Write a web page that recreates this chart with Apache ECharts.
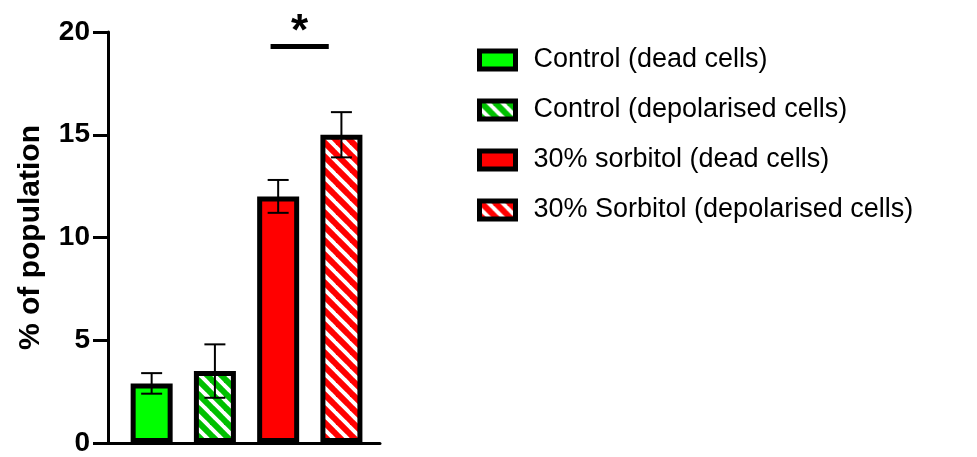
<!DOCTYPE html>
<html>
<head>
<meta charset="utf-8">
<script src="https://cdn.jsdelivr.net/npm/echarts@6/dist/echarts.min.js"></script>
<style>
  html, body { margin: 0; padding: 0; background: #fff; }
  #chart { width: 977px; height: 457px; }
</style>
</head>
<body>
<div id="chart"></div>
<script>
// Group names, bar positions, means and SD
const seriesNames = [
  'Control (dead cells)',
  'Control (depolarised cells)',
  '30% sorbitol (dead cells)',
  '30% Sorbitol (depolarised cells)'
];
const positions = [0, 1, 2, 3];
const means = [2.9, 3.5, 12.0, 15.0];
const errors = [0.5, 1.3, 0.8, 1.1];

// Y axis scale
const yMin = 0;
const yMax = 20;
const yStep = 5;

// Significance bracket: [from, to, height]
const sigBars = [[1.88, 2.80, 19.3]];
const sigLabels = ['*'];

const FONT = '"Liberation Sans", Arial, sans-serif';

// Diagonal stripe tile used for the depolarised-cell bars
function hatch(color) {
  const P = 14;
  const c = document.createElement('canvas');
  c.width = P; c.height = P;
  const g = c.getContext('2d');
  g.fillStyle = '#ffffff';
  g.fillRect(0, 0, P, P);
  g.strokeStyle = color;
  g.lineWidth = 6;
  for (const k of [-P, 0, P]) {
    g.beginPath();
    g.moveTo(k - 2, -2);
    g.lineTo(k + P + 2, P + 2);
    g.stroke();
  }
  return c;
}

const fills = [
  '#00ff00',
  { image: hatch('#00c000'), repeat: 'repeat' },
  '#ff0000',
  { image: hatch('#ff0000'), repeat: 'repeat' }
];

const barSeries = seriesNames.map((name, i) => ({
  name: name,
  type: 'bar',
  barWidth: 42,
  barGap: '-100%',
  data: [[positions[i], means[i]]],
  itemStyle: { color: fills[i], borderColor: '#000', borderWidth: 5 },
  z: 2
}));

const errorSeries = {
  type: 'custom',
  name: 'sd',
  z: 5,
  data: positions.map((p, i) => [p, means[i], errors[i]]),
  renderItem: function (params, api) {
    const x = api.value(0), m = api.value(1), e = api.value(2);
    const top = api.coord([x, m + e]);
    const bot = api.coord([x, m - e]);
    const hw = 10.5;
    const st = { stroke: '#000', lineWidth: 2 };
    return {
      type: 'group',
      children: [
        { type: 'line', shape: { x1: top[0], y1: top[1], x2: bot[0], y2: bot[1] }, style: st },
        { type: 'line', shape: { x1: top[0] - hw, y1: top[1], x2: top[0] + hw, y2: top[1] }, style: st },
        { type: 'line', shape: { x1: bot[0] - hw, y1: bot[1], x2: bot[0] + hw, y2: bot[1] }, style: st }
      ]
    };
  }
};

const sigSeries = {
  type: 'custom',
  name: 'sig',
  z: 5,
  clip: false,
  data: sigBars,
  renderItem: function (params, api) {
    const a = api.coord([api.value(0), api.value(2)]);
    const b = api.coord([api.value(1), api.value(2)]);
    return {
      type: 'group',
      children: [
        { type: 'line', shape: { x1: a[0], y1: a[1], x2: b[0], y2: b[1] }, style: { stroke: '#000', lineWidth: 5 } },
        {
          type: 'text', x: (a[0] + b[0]) / 2, y: a[1] + 8,
          style: {
            text: sigLabels[params.dataIndex], fill: '#000',
            font: 'bold 44px ' + FONT, align: 'center', verticalAlign: 'bottom'
          }
        }
      ]
    };
  }
};

const chart = echarts.init(document.getElementById('chart'), null, { renderer: 'canvas' });
chart.setOption({
  animation: false,
  backgroundColor: '#fff',
  grid: { left: 108, top: 32, width: 272, bottom: 10 },
  legend: {
    data: seriesNames,
    orient: 'vertical',
    left: 477,
    top: 46,
    padding: 0,
    icon: 'rect',
    itemWidth: 36,
    itemHeight: 18,
    itemGap: 22,
    itemStyle: { borderColor: '#000', borderWidth: 5 },
    textStyle: { fontSize: 27, lineHeight: 28, color: '#000', fontFamily: FONT, padding: [0, 0, 0, 13] },
    selectedMode: false
  },
  xAxis: {
    type: 'value',
    min: -0.69,
    max: 3.61,
    axisLine: { show: true, onZero: false, lineStyle: { color: '#000', width: 3 } },
    axisTick: { show: false },
    axisLabel: { show: false },
    splitLine: { show: false }
  },
  yAxis: {
    type: 'value',
    min: yMin,
    max: yMax,
    interval: yStep,
    name: '% of population',
    nameLocation: 'middle',
    nameGap: 62,
    nameTextStyle: { fontSize: 30, fontWeight: 'bold', color: '#000', fontFamily: FONT },
    axisLine: { show: true, onZero: false, lineStyle: { color: '#000', width: 3 } },
    axisTick: { show: true, length: 15, lineStyle: { color: '#000', width: 3 } },
    axisLabel: { fontSize: 28, fontWeight: 'bold', color: '#000', fontFamily: FONT, margin: 18 },
    splitLine: { show: false }
  },
  series: [...barSeries, errorSeries, sigSeries]
});
</script>
</body>
</html>
